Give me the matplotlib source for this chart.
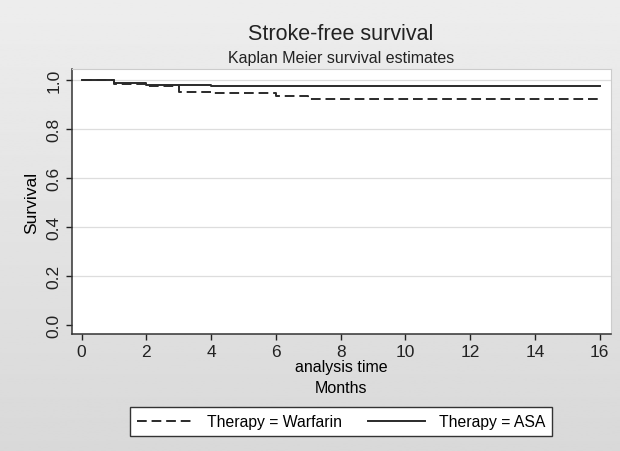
import numpy as np
import matplotlib
matplotlib.use("Agg")
import matplotlib.pyplot as plt

plt.rcParams['font.family'] = ['Liberation Sans', 'DejaVu Sans']

# Kaplan-Meier step data
warfarin_t = [0, 1, 2, 3, 4, 6, 7, 16]
warfarin_s = [1.0, 0.982, 0.974, 0.952, 0.945, 0.935, 0.923, 0.923]
asa_t = [0, 1, 2, 4, 16]
asa_s = [1.0, 0.987, 0.979, 0.973, 0.973]

x_ticks = [0, 2, 4, 6, 8, 10, 12, 14, 16]
y_ticks = [0.0, 0.2, 0.4, 0.6, 0.8, 1.0]


def main():
    fig = plt.figure(figsize=(6.2, 4.52), dpi=100)

    # grey gradient background like the Stata scheme
    bg = fig.add_axes([0, 0, 1, 1], zorder=-10)
    grad = np.linspace(0.93, 0.85, 256).reshape(-1, 1)
    bg.imshow(grad, aspect='auto', cmap='gray', vmin=0, vmax=1, extent=[0, 1, 0, 1])
    bg.axis('off')

    ax = fig.add_axes([0.116, 0.259, 0.869, 0.586])
    ax.set_facecolor('white')

    ax.step(warfarin_t, warfarin_s, where='post', color='#2a2a2a', lw=1.4,
            linestyle=(0, (5, 2.5)), label='Therapy = Warfarin')
    ax.step(asa_t, asa_s, where='post', color='#2a2a2a', lw=1.4,
            label='Therapy = ASA')

    ax.set_xlim(-0.3, 16.34)
    ax.set_ylim(-0.038, 1.044)
    ax.set_xticks(x_ticks)
    ax.set_yticks(y_ticks)
    ax.set_yticklabels(['%.1f' % v for v in y_ticks], rotation=90, va='center')
    ax.tick_params(labelsize=12.5, colors='#222222', length=4, width=1)

    for v in y_ticks[1:]:
        ax.axhline(v, color='#dddddd', lw=0.9, zorder=0)

    for s in ['top', 'right']:
        ax.spines[s].set_color('#cccccc')
    for s in ['left', 'bottom']:
        ax.spines[s].set_color('#333333')
        ax.spines[s].set_linewidth(1.1)

    ax.set_ylabel('Survival', fontsize=12.5, labelpad=5)
    ax.set_xlabel('analysis time\nMonths', fontsize=11.5, labelpad=0, linespacing=1.5)

    fig.text(0.55, 0.923, 'Stroke-free survival', ha='center', va='center', fontsize=15.5, color='#222222')
    fig.text(0.55, 0.871, 'Kaplan Meier survival estimates', ha='center', va='center', fontsize=11.5, color='#222222')

    leg = fig.legend(loc='center', bbox_to_anchor=(0.55, 0.065), ncol=2, fontsize=11.3,
                     handlelength=3.6, handletextpad=0.9, columnspacing=1.65, frameon=True,
                     fancybox=False, edgecolor='#333333', framealpha=1, borderpad=0.45)
    leg.get_frame().set_linewidth(1.0)

    fig.savefig('out.png', dpi=100)


if __name__ == '__main__':
    main()
